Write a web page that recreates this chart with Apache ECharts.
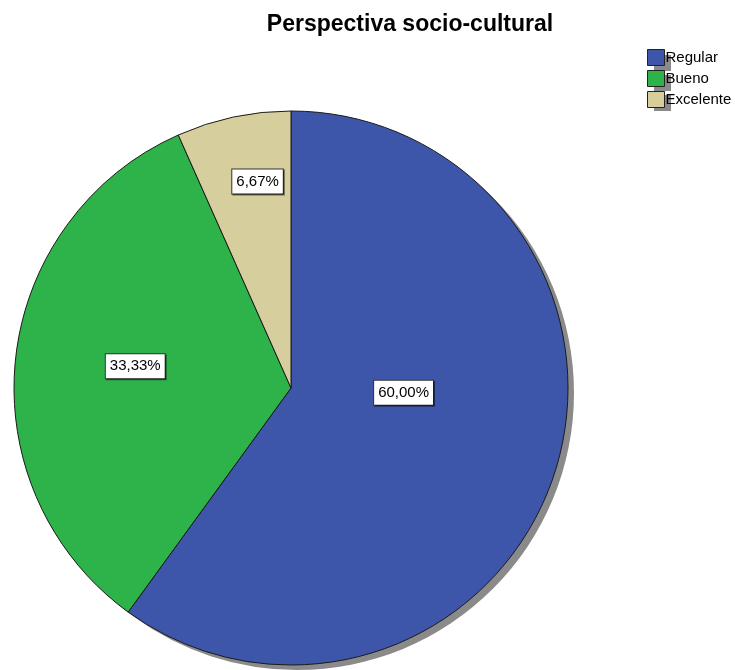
<!DOCTYPE html>
<html>
<head>
<meta charset="utf-8">
<script src="https://cdn.jsdelivr.net/npm/echarts@6/dist/echarts.min.js"></script>
<style>html,body{margin:0;padding:0;background:#fff}#c{width:735px;height:670px}</style>
</head>
<body>
<div id="c"></div>
<script>
const categories = ['Regular', 'Bueno', 'Excelente'];
const values = [60.00, 33.33, 6.67];
const labels = ['60,00%', '33,33%', '6,67%'];

const colors = ['#3d56aa', '#2db34a', '#d6cf9d'];
const labelOffsets = [[-22, -39], [-15, -7], [-4, -68]];
const FONT = '"Liberation Sans", Arial, sans-serif';

const chart = echarts.init(document.getElementById('c'));
const center = [291, 388];
const radius = 277;

const legendBase = {
  orient: 'vertical', top: 44,
  itemWidth: 17, itemHeight: 16, itemGap: 4,
  icon: 'rect',
  data: categories,
  selectedMode: false
};

chart.setOption({
  animation: false,
  title: {
    text: 'Perspectiva socio-cultural',
    left: 405, top: 8, textAlign: 'center',
    textStyle: { fontFamily: FONT, fontSize: 23, fontWeight: 'bold', color: '#000' }
  },
  legend: [
    Object.assign({}, legendBase, {
      left: 649, top: 50, z: 1,
      itemStyle: { color: '#8a8a8a', borderWidth: 0 },
      textStyle: { fontFamily: FONT, fontSize: 15, color: 'rgba(0,0,0,0)', padding: [0, 0, 0, -4] }
    }),
    Object.assign({}, legendBase, {
      left: 642, z: 3,
      itemStyle: { borderColor: '#222', borderWidth: 1 },
      textStyle: { fontFamily: FONT, fontSize: 15, color: '#000', padding: [0, 0, 0, -4] }
    })
  ],
  series: [
    {
      type: 'pie', silent: true, z: 1,
      center: [center[0] + 6, center[1] + 5], radius: radius,
      startAngle: 90, clockwise: true,
      label: { show: false }, labelLine: { show: false },
      itemStyle: { color: '#8a8a8a', borderWidth: 0 },
      data: values.map((v, i) => ({ value: v, name: 'shadow' + i }))
    },
    {
      type: 'pie', z: 2,
      center: center, radius: radius,
      startAngle: 90, clockwise: true,
      itemStyle: { borderColor: '#1a1a1a', borderWidth: 1 },
      label: {
        show: true, position: 'inside',
        fontFamily: FONT, fontSize: 15, color: '#000',
        backgroundColor: '#fff', borderColor: '#333', borderWidth: 1,
        padding: [5, 4, 4, 4],
        shadowColor: 'rgba(0,0,0,0.5)', shadowOffsetX: 1, shadowOffsetY: 1
      },
      labelLine: { show: false },
      data: categories.map((c, i) => ({
        name: c, value: values[i],
        itemStyle: { color: colors[i] },
        label: { formatter: labels[i], offset: labelOffsets[i] }
      }))
    }
  ]
});
</script>
</body>
</html>
